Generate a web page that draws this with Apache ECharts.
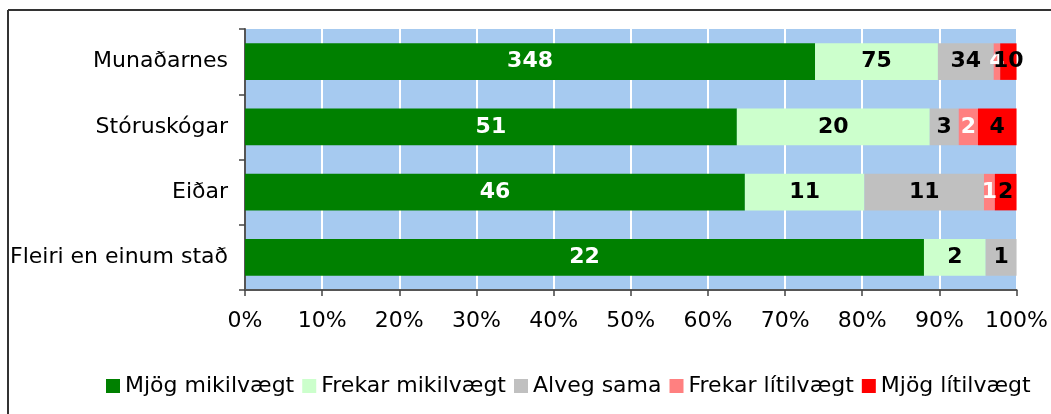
<!DOCTYPE html>
<html>
<head>
<meta charset="utf-8">
<script src="https://cdn.jsdelivr.net/npm/echarts@6/dist/echarts.min.js"></script>
<style>
  html, body { margin: 0; padding: 0; background: #fff; }
  #chart { width: 1051px; height: 414px; }
</style>
</head>
<body>
<div id="chart"></div>
<script>
// flokkar (ofan frá og niður)
var categories = ["Munaðarnes", "Stóruskógar", "Eiðar", "Fleiri en einum stað"];
var seriesNames = ["Mjög mikilvægt", "Frekar mikilvægt", "Alveg sama", "Frekar lítilvægt", "Mjög lítilvægt"];
// fjöldi svara
var mjogMikilvaegt = [348, 51, 46, 22];
var frekarMikilvaegt = [75, 20, 11, 2];
var alvegSama = [34, 3, 11, 1];
var frekarLitilvaegt = [4, 2, 1, 0];
var mjogLitilvaegt = [10, 4, 2, 0];
var xTicks = [0, 10, 20, 30, 40, 50, 60, 70, 80, 90, 100];

var counts = [mjogMikilvaegt, frekarMikilvaegt, alvegSama, frekarLitilvaegt, mjogLitilvaegt];
var colors = ["#008000", "#CCFFCC", "#C0C0C0", "#FF8080", "#FF0000"];
var labelColors = ["#ffffff", "#000000", "#000000", "#ffffff", "#000000"];

var totals = categories.map(function (c, i) {
  var s = 0;
  counts.forEach(function (arr) { s += arr[i]; });
  return s;
});

var chart = echarts.init(document.getElementById("chart"));

var series = counts.map(function (arr, k) {
  return {
    name: seriesNames[k],
    type: "bar",
    stack: "total",
    barCategoryGap: "44%",
    itemStyle: { color: colors[k] },
    label: {
      show: true,
      position: "inside",
      color: labelColors[k],
      fontSize: 22,
      fontWeight: "bold",
      fontFamily: "DejaVu Sans",
      formatter: function (p) { return p.data.n ? String(p.data.n) : ""; }
    },
    data: arr.map(function (v, i) {
      return { value: v / totals[i] * 100, n: v };
    })
  };
});

var option = {
  animation: false,
  textStyle: { fontFamily: "DejaVu Sans" },
  graphic: [
    { type: "line", shape: { x1: 8, y1: 10, x2: 1051, y2: 10 }, style: { stroke: "#333", lineWidth: 2 } },
    { type: "line", shape: { x1: 8, y1: 10, x2: 8, y2: 414 }, style: { stroke: "#333", lineWidth: 2 } }
  ],
  grid: {
    left: 245,
    right: 34,
    top: 29,
    bottom: 124,
    show: true,
    backgroundColor: "#A6CAF0",
    borderWidth: 0
  },
  legend: {
    left: 101,
    top: 370,
    itemWidth: 14,
    itemHeight: 14,
    itemGap: 8,
    icon: "rect",
    textStyle: { fontSize: 22, color: "#000", fontFamily: "DejaVu Sans" },
    data: seriesNames
  },
  xAxis: {
    type: "value",
    min: 0,
    max: 100,
    interval: 10,
    axisLine: { show: true, lineStyle: { color: "#555", width: 2 } },
    axisTick: { show: true, length: 6, lineStyle: { color: "#444", width: 1.5 } },
    axisLabel: {
      fontSize: 22,
      color: "#000",
      margin: 20,
      formatter: function (v) { return xTicks.indexOf(v) >= 0 ? v + "%" : ""; }
    },
    splitLine: { show: true, lineStyle: { color: "#ffffff", width: 2 } }
  },
  yAxis: {
    type: "category",
    inverse: true,
    data: categories,
    axisLine: { show: true, lineStyle: { color: "#555", width: 2 } },
    axisTick: { show: true, length: 6, alignWithLabel: false, lineStyle: { color: "#444", width: 1.5 } },
    axisLabel: { fontSize: 22, color: "#000", margin: 17 }
  },
  series: series
};

chart.setOption(option);
</script>
</body>
</html>
